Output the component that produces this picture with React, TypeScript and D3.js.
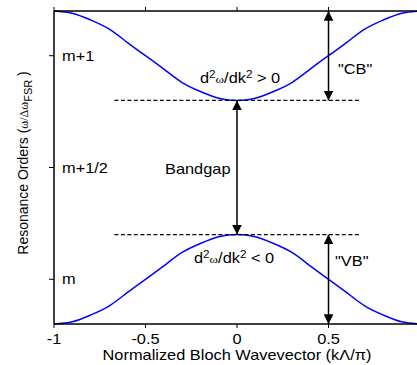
import React from 'react';
import * as d3 from 'd3';

// Bloch wavevector samples (k*Lambda/pi) and the two band edges
const kValues = [-1, -0.9, -0.8, -0.7, -0.6, -0.5, -0.4, -0.3, -0.2, -0.1, 0, 0.1, 0.2, 0.3, 0.4, 0.5, 0.6, 0.7, 0.8, 0.9, 1];
const upperBand = [1.2, 1.19, 1.16, 1.12, 1.06, 1.0, 0.94, 0.88, 0.84, 0.81, 0.8, 0.81, 0.84, 0.88, 0.94, 1.0, 1.06, 1.12, 1.16, 1.19, 1.2];
const lowerBand = [-0.2, -0.19, -0.16, -0.12, -0.06, 0.0, 0.06, 0.12, 0.16, 0.19, 0.2, 0.19, 0.16, 0.12, 0.06, 0.0, -0.06, -0.12, -0.16, -0.19, -0.2];

const xTicks = [-1, -0.5, 0, 0.5];
const xTickLabels = ['-1', '-0.5', '0', '0.5'];
const yTicks = [0, 0.5, 1];
const yTickLabels = ['m', 'm+1/2', 'm+1'];

// band edges and arrows
const gapTop = 0.8;
const gapBottom = 0.2;
const dashExtent = [-0.67, 0.67];
const arrowK = 0.5;

const W = 417;
const H = 365;
const margin = { left: 54, top: 11, right: 420, bottom: 324 };
const FS = 14;
const SX = 1.17; // text in the picture is a little wider than plain Arial

const T = ({ x, y, anchor = 'start', children }: any) => (
  <text transform={`translate(${x},${y}) scale(${SX},1)`} textAnchor={anchor} fontSize={FS}>
    {children}
  </text>
);

const App = () => {
  const x = d3.scaleLinear().domain([-1, 1]).range([margin.left, margin.right]);
  const y = d3.scaleLinear().domain([-0.2, 1.2]).range([margin.bottom, margin.top]);

  const line = d3.line<number>()
    .x((d, i) => x(kValues[i]))
    .y(d => y(d))
    .curve(d3.curveNatural);

  const font = 'Liberation Sans, Arial, sans-serif';
  const serif = 'Liberation Serif, serif';
  const yTop = y(1.2);
  const yBot = y(-0.2);

  const arrow = (x0: number, y0: number, y1: number, key: string) => (
    <line key={key} x1={x0} x2={x0} y1={y0} y2={y1} stroke="#000" strokeWidth={1.5}
      markerStart="url(#ah)" markerEnd="url(#ah)" />
  );

  const deriv = (sign: string) => (
    <>
      d<tspan dy={-5} fontSize={10}>2</tspan>
      <tspan dy={5} fontSize={11} fontFamily={serif}>ω</tspan>/dk
      <tspan dy={-5} fontSize={10}>2</tspan>
      <tspan dy={5}>{` ${sign} 0`}</tspan>
    </>
  );

  return (
    <svg width={W} height={H} style={{ position: 'absolute', left: 0, top: 0 }} fontFamily={font}>
      <defs>
        <marker id="ah" viewBox="0 0 10 10" refX="10" refY="5" markerWidth="6.5" markerHeight="6.5"
          markerUnits="strokeWidth" orient="auto-start-reverse">
          <path d="M0,0 L10,5 L0,10 z" fill="#000" />
        </marker>
      </defs>
      <rect width={W} height={H} fill="#fff" />

      {/* bands */}
      <path d={line(upperBand) || ''} fill="none" stroke="#0000ff" strokeWidth={1.5} />
      <path d={line(lowerBand) || ''} fill="none" stroke="#0000ff" strokeWidth={1.5} />

      {/* band edge dashed lines */}
      {[gapTop, gapBottom].map(v => (
        <line key={v} x1={x(dashExtent[0])} x2={x(dashExtent[1])} y1={y(v)} y2={y(v)}
          stroke="#000" strokeWidth={1.2} strokeDasharray="4,2.5" />
      ))}

      {/* arrows */}
      {arrow(x(arrowK), yTop, y(gapTop), 'cb')}
      {arrow(x(0), y(gapTop), y(gapBottom), 'gap')}
      {arrow(x(arrowK), y(gapBottom), yBot, 'vb')}

      {/* axes */}
      <line x1={margin.left} x2={W} y1={yTop} y2={yTop} stroke="#000" strokeWidth={1.5} />
      <line x1={margin.left} x2={W} y1={yBot} y2={yBot} stroke="#000" strokeWidth={1.5} />
      <line x1={margin.left} x2={margin.left} y1={yTop} y2={yBot} stroke="#000" strokeWidth={1.5} />

      {xTicks.map((t, i) => (
        <g key={t}>
          <line x1={x(t)} x2={x(t)} y1={yTop} y2={yTop - 4} stroke="#000" strokeWidth={1} />
          <line x1={x(t)} x2={x(t)} y1={yBot} y2={yBot + 4} stroke="#000" strokeWidth={1} />
          <T x={x(t)} y={yBot + 20} anchor="middle">{xTickLabels[i]}</T>
        </g>
      ))}
      {yTicks.map((t, i) => (
        <g key={t}>
          <line x1={margin.left - 5} x2={margin.left} y1={y(t)} y2={y(t)} stroke="#000" strokeWidth={1} />
          <T x={margin.left + 8} y={y(t) + 5}>{yTickLabels[i]}</T>
        </g>
      ))}

      {/* annotations */}
      <T x={200} y={83}>{deriv('>')}</T>
      <T x={194} y={263}>{deriv('<')}</T>
      <T x={165} y={174}>Bandgap</T>
      <T x={338} y={74}>"CB"</T>
      <T x={335} y={266}>"VB"</T>

      {/* axis titles */}
      <T x={(margin.left + margin.right) / 2 + 0} y={360} anchor="middle">
        Normalized Bloch Wavevector (kΛ/π)
      </T>
      <text transform="translate(28,163) rotate(-90)" textAnchor="middle" fontSize={14}>
        Resonance Orders (<tspan fontFamily={serif} fontSize={12}>ω/Δω</tspan>
        <tspan dy={4} fontSize={11}>FSR</tspan><tspan dy={-4}> )</tspan>
      </text>
    </svg>
  );
};

export default App;
